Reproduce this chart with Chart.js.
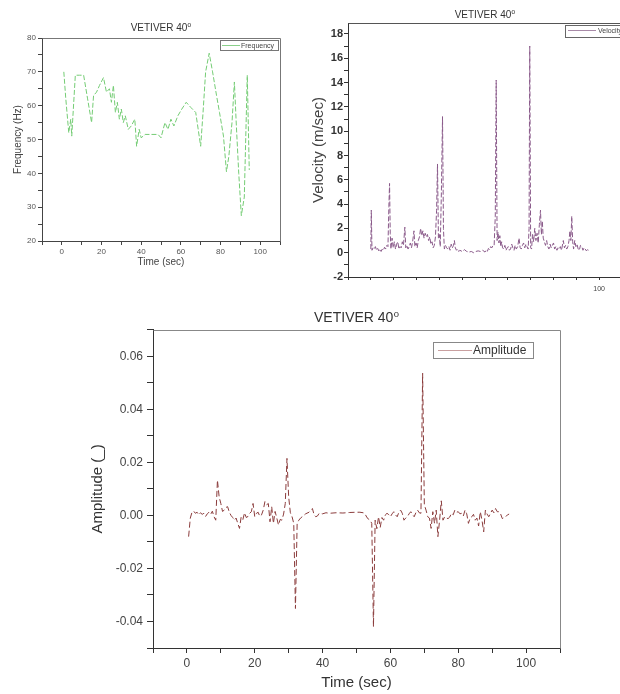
<!DOCTYPE html>
<html><head><meta charset="utf-8">
<script src="https://cdn.jsdelivr.net/npm/chart.js@4.4.1/dist/chart.umd.min.js"></script>
<style>
html,body{margin:0;padding:0;background:#fff;overflow:hidden;width:620px;height:694px;}
canvas{position:absolute;}
</style></head><body>
<canvas id="c1" width="300" height="280" style="left:0;top:0"></canvas>
<canvas id="c2" width="330" height="300" style="left:300px;top:0"></canvas>
<canvas id="c3" width="520" height="404" style="left:60px;top:290px"></canvas>
<script>
// ---------- DATA ----------
const chartTitle = 'VETIVER 40\u2070';

const freqTime = [1, 2, 3.5, 4.5, 5, 6.8, 9, 11, 13, 15, 16, 17.5, 19, 21, 22.5, 24, 25, 26, 27, 28, 29, 30, 31, 32, 33.5, 35, 36.8, 37.7, 39, 40, 42, 45, 48.5, 50, 52, 53.5, 55, 56.5, 58.5, 60.5, 62.7, 65, 67.5, 70, 71.2, 72.5, 74.3, 76, 78, 79.5, 81.5, 83, 84.2, 85.8, 87, 88, 89.2, 90.5, 92, 93.5, 94.5];
const freqValues = [70, 62, 52, 56, 51, 69, 69, 69, 62, 55, 63, 64, 66, 68.3, 64, 65, 61, 66, 58, 61, 56, 59, 55, 57, 53, 54, 56, 48, 53, 50.5, 51.5, 51.5, 51.5, 50.5, 55, 53, 56, 54, 57, 59, 61, 59.5, 58, 48, 58, 70, 75.5, 70, 63, 58, 51, 40.5, 45, 55, 67, 54, 40, 27.5, 33, 69, 41];

const velTime = [0.0,0.2,0.5,1.0,1.5,2.0,2.5,3.0,3.5,4.0,4.5,5.0,5.5,6.0,6.5,7.0,7.5,7.9,8.2,8.5,8.8,9.3,9.8,10.3,10.8,11.3,11.8,12.3,12.8,13.3,13.8,14.3,14.9,15.3,15.8,16.3,16.8,17.3,17.8,18.3,18.9,19.3,19.8,20.3,20.8,21.3,21.8,22.3,22.8,23.3,23.8,24.3,24.8,25.3,25.8,26.3,26.8,27.3,27.8,28.3,28.8,29.2,29.6,30.0,30.4,30.9,31.4,31.8,32.2,32.7,33.2,33.7,34.2,34.7,35.2,35.7,36.2,36.6,37.0,37.5,38.0,38.5,39.0,40.0,41.0,42.0,43.0,44.0,45.0,46.0,47.0,48.0,49.0,50.0,50.5,51.0,51.5,52.0,52.5,53.0,53.5,54.0,54.5,54.9,55.3,55.7,56.1,56.5,56.9,57.3,57.7,58.2,58.7,59.2,59.7,60.2,60.7,61.2,61.7,62.2,62.7,63.2,63.7,64.3,64.9,65.4,65.9,66.4,66.9,67.4,67.9,68.4,68.9,69.3,69.6,70.0,70.4,70.8,71.3,71.8,72.3,72.8,73.3,73.8,74.3,74.7,75.1,75.5,76.0,76.5,77.0,77.5,78.0,78.5,79.0,79.5,80.0,80.5,81.0,81.5,82.0,82.5,83.0,83.5,84.3,84.8,85.3,85.8,86.3,86.8,87.2,87.6,88.0,88.4,88.8,89.3,89.8,90.3,90.8,91.3,91.8,92.4,92.9,93.4,93.9,94.4,94.9,95.3];
const velValues = [0.3,3.5,0.2,0.4,0.3,0.5,0.2,0.35,0.15,0.3,0.1,0.3,0.2,0.45,0.3,0.6,0.5,3.8,5.7,1.6,0.3,1.2,0.4,0.9,0.3,0.7,0.9,0.3,0.5,0.4,0.9,0.6,2.1,0.4,0.6,0.3,0.5,0.8,0.4,0.9,1.8,0.5,0.8,0.4,1.0,1.3,2.0,1.4,1.8,1.2,1.6,1.3,1.5,1.0,1.3,0.7,0.9,0.4,0.6,1.3,3.5,7.3,1.2,1.5,0.5,5.0,11.2,2.0,0.3,0.6,0.4,0.3,0.5,0.2,0.7,0.4,0.6,1.0,0.4,0.2,0.3,0.1,0.2,0.1,0.25,0.1,0.05,0.1,0.0,0.1,0.15,0.1,0.2,0.05,0.2,0.1,0.35,0.25,0.5,0.4,0.6,0.6,3.0,14.2,1.0,1.7,0.8,1.4,0.5,0.9,0.4,0.3,0.6,0.2,0.4,0.5,0.2,0.3,0.7,0.4,0.2,0.6,0.3,0.5,1.2,0.4,0.3,0.6,0.8,0.4,0.7,0.5,0.3,2.0,17.0,0.4,0.3,1.5,0.9,2.0,1.0,1.6,0.8,2.3,3.5,1.5,2.6,1.2,0.9,0.6,1.0,0.5,0.3,0.7,0.4,0.6,0.8,0.3,0.5,0.2,0.4,0.3,0.5,0.2,1.0,0.4,0.6,0.3,0.5,1.0,1.8,1.0,3.0,0.9,0.3,1.0,0.5,0.7,0.3,0.2,0.6,0.5,0.2,0.4,0.3,0.15,0.25,0.2];

const ampTime = [0.5,1,1.5,2,2.5,3,3.5,4,4.5,5,5.5,6,6.5,7,7.5,8,8.5,9,9.5,10,10.5,11,11.5,12,12.5,13,13.5,14,14.5,15,15.5,16,16.5,17,17.5,18,18.5,19,19.5,20,20.5,21,21.5,22,22.5,23,23.5,24,24.5,25,25.5,26,26.5,27,27.5,28,28.5,29,29.5,30,30.5,31,31.5,32,32.5,33,33.5,34,35,36,37,37.5,38,38.5,39,40,41,42,44,46,48,50,51,52,52.5,53,53.5,54,54.5,55,55.5,56,56.5,57,57.5,58,58.5,59,59.5,60,60.5,61,61.5,62,62.5,63,63.5,64,64.5,65,65.5,66,66.5,67,67.5,68,68.5,69,69.5,70,70.5,71,71.5,72,72.5,73,73.5,74,74.5,75,75.5,76,76.5,77,77.5,78,78.5,79,79.5,80,80.5,81,81.5,82,82.5,83,83.5,84,84.5,85,85.5,86,86.5,87,87.5,88,88.5,89,89.5,90,90.5,91,91.5,92,92.5,93,93.5,94,94.5,95];
const ampValues = [-0.008,-0.001,0.0012,0.0016,0.0008,0.0012,0.0002,0.001,0.0004,0.0008,-0.0004,0.0006,0.0012,0.0004,0.0016,-0.0005,-0.0018,0.0133,0.007,0.0045,0.0015,0.002,0.003,0.0033,0.0012,0,-0.0008,-0.0018,-0.001,-0.003,-0.0049,-0.0005,-0.0015,0.001,-0.0008,-0.0004,0.0008,0.0014,0.0045,-0.0005,0.0008,0.0012,-0.0004,0.0002,0.002,0.0052,0.004,0.0045,-0.0024,0.0033,-0.003,0.0015,-0.001,-0.0036,-0.0015,-0.0018,0.0005,0.0045,0.0215,0.007,0.001,-0.0005,-0.003,-0.0351,-0.003,-0.0018,-0.001,-0.0005,0.0006,0.0012,0.0026,0.0002,-0.0005,-0.0002,0.0008,0.0006,0.001,0.0008,0.001,0.0009,0.0011,0.0012,0.0012,0.001,0.0006,-0.0006,-0.0014,-0.0018,-0.003,-0.042,-0.0018,-0.005,-0.0005,-0.0045,-0.0008,-0.0018,0.0002,0.0008,0.0003,-0.0005,0.0006,0.0014,0.0002,-0.0005,0.0012,0.002,0.0008,-0.0018,-0.001,-0.0005,0.0006,0.0014,0.0004,-0.0005,0.001,0.002,0.001,0.0008,0.0536,0.004,0.002,-0.0005,-0.001,-0.0049,0.0014,-0.003,0.002,-0.008,-0.0018,0.0055,-0.0018,-0.0005,-0.001,-0.0012,-0.0006,0.0008,0.0002,0.002,0.0012,0.0014,0.0006,0.0008,-0.0002,0.002,0.0006,-0.003,-0.001,-0.0005,0.0004,-0.0018,-0.001,-0.004,0.0014,-0.0018,-0.0062,0.002,0.0005,-0.0005,0.0008,0.002,0.001,0.0026,0.0014,0.0014,0.0005,-0.0012,-0.0008,-0.0005,0.0002,0.0005];

// ---------- HELPERS ----------
const F = "'Liberation Sans', Arial, 'DejaVu Sans', sans-serif";
const pts = (xs, ys) => xs.map((x, i) => ({x: x, y: ys[i]}));

const framePlugin = {
  id: 'frame',
  afterDraw(chart, args, o) {
    if (!o || !o.color) return;
    const {ctx, chartArea: a} = chart;
    ctx.save();
    ctx.strokeStyle = o.color; ctx.lineWidth = 1;
    ctx.beginPath();
    const l = Math.round(a.left) + 0.5, t = Math.round(a.top) + 0.5, r = Math.round(a.right) + 0.5, b = Math.round(a.bottom) + 0.5;
    ctx.moveTo(l, t); ctx.lineTo(r, t); ctx.lineTo(r, b);
    ctx.stroke();
    ctx.restore();
  }
};
const boxLegend = {
  id: 'boxLegend',
  afterDraw(chart, args, o) {
    if (!o || !o.text) return;
    const ctx = chart.ctx;
    ctx.save();
    ctx.fillStyle = '#fff'; ctx.fillRect(o.x, o.y, o.w, o.h);
    ctx.strokeStyle = o.border; ctx.lineWidth = 1;
    ctx.strokeRect(o.x + 0.5, o.y + 0.5, o.w, o.h);
    ctx.strokeStyle = o.lineColor; ctx.beginPath();
    ctx.moveTo(o.lx1, o.ly + 0.5); ctx.lineTo(o.lx2, o.ly + 0.5); ctx.stroke();
    ctx.fillStyle = o.textColor; ctx.font = o.font; ctx.textBaseline = 'middle'; ctx.textAlign = 'left';
    ctx.fillText(o.text, o.tx, o.ly + 1);
    ctx.restore();
  }
};
Chart.register(framePlugin, boxLegend);

function axis(o) {
  return {
    type: 'linear', min: o.min, max: o.max,
    afterFit: s => { if (s.isHorizontal()) s.height = o.size; else s.width = o.size; },
    border: {display: true, color: o.axisColor, width: 1},
    grid: {display: true, drawOnChartArea: false, drawTicks: true, tickLength: o.tickLength, tickColor: o.axisColor, tickWidth: 1},
    ticks: {stepSize: o.step, autoSkip: false, includeBounds: false, maxRotation: 0, minRotation: 0, padding: o.pad,
      color: o.labelColor, font: {family: F, size: o.fs, weight: o.fw || 'normal'}, callback: o.cb},
    title: {display: !!o.title, text: o.title || '', color: o.titleColor, font: {family: F, size: o.tfs}, padding: o.tpad || 0}
  };
}
const xCb = v => { const r = Math.round(v); return (r % 20 === 0 && r >= 0 && r <= 100) ? String(r) : ''; };

// ---------- CHART 1: Frequency ----------
new Chart(document.getElementById('c1'), {
  type: 'line',
  data: {datasets: [{data: pts(freqTime, freqValues), borderColor: '#74cc74', borderWidth: 1, borderDash: [5, 2], pointRadius: 0, tension: 0, fill: false}]},
  options: {
    responsive: false, animation: false, events: [],
    layout: {padding: {left: 0, right: 20, top: 0, bottom: 0}},
    scales: {
      x: axis({min: -10, max: 110, step: 10, size: 39, axisColor: '#444', tickLength: 4, pad: 2, labelColor: '#555', fs: 8, cb: xCb,
        title: 'Time (sec)', titleColor: '#444', tfs: 10, tpad: {top: 0, bottom: 12}}),
      y: axis({min: 20, max: 80, step: 5, size: 42, axisColor: '#444', tickLength: 4, pad: 2, labelColor: '#555', fs: 8,
        cb: v => (Math.round(v) % 10 === 0 ? String(Math.round(v)) : ''),
        title: 'Frequency (Hz)', titleColor: '#444', tfs: 10, tpad: {top: 12, bottom: 0}})
    },
    plugins: {
      legend: {display: false}, tooltip: {enabled: false},
      title: {display: true, fullSize: false, text: chartTitle, color: '#333', font: {family: F, size: 10, weight: 'normal'}, padding: {top: 22, bottom: 4}},
      frame: {color: '#777'},
      boxLegend: {x: 220, y: 40, w: 58, h: 10, border: '#777', lineColor: '#8ad08a', lx1: 222, lx2: 240, ly: 45, text: 'Frequency', tx: 241, textColor: '#444', font: "7px " + F}
    }
  }
});

// ---------- CHART 2: Velocity ----------
new Chart(document.getElementById('c2'), {
  type: 'line',
  data: {datasets: [{data: pts(velTime, velValues), borderColor: '#8a5a8a', borderWidth: 1, borderDash: [5, 2], pointRadius: 0, tension: 0, fill: false}]},
  options: {
    responsive: false, animation: false, events: [],
    layout: {padding: {left: 0, right: 8, top: 0, bottom: 0}},
    scales: {
      x: axis({min: -10, max: 110, step: 10, size: 23, axisColor: '#333', tickLength: 3, pad: 5, labelColor: '#444', fs: 7,
        cb: v => (Math.round(v) === 100 ? '100' : '')}),
      y: axis({min: -2, max: 18.9, step: 1, size: 48, axisColor: '#333', tickLength: 4, pad: 1, labelColor: '#333', fs: 11, fw: 'bold',
        cb: v => (Math.round(v) % 2 === 0 ? String(Math.round(v)) : ''),
        title: 'Velocity (m/sec)', titleColor: '#444', tfs: 15, tpad: {top: 10, bottom: 0}})
    },
    plugins: {
      legend: {display: false}, tooltip: {enabled: false},
      title: {display: true, fullSize: false, text: chartTitle, color: '#333', font: {family: F, size: 10, weight: 'normal'}, padding: {top: 9, bottom: 2}},
      frame: {color: '#555'},
      boxLegend: {x: 265, y: 25, w: 80, h: 12, border: '#666', lineColor: '#a88aa8', lx1: 268, lx2: 296, ly: 30, text: 'Velocity', tx: 298, textColor: '#444', font: "7px " + F}
    }
  }
});

// ---------- CHART 3: Amplitude ----------
new Chart(document.getElementById('c3'), {
  type: 'line',
  data: {datasets: [{data: pts(ampTime, ampValues), borderColor: '#8b3c3c', borderWidth: 1, borderDash: [6, 3], pointRadius: 0, tension: 0, fill: false}]},
  options: {
    responsive: false, animation: false, events: [],
    layout: {padding: {left: 0, right: 20, top: 0, bottom: 0}},
    scales: {
      x: axis({min: -10, max: 110, step: 10, size: 46, axisColor: '#333', tickLength: 5, pad: 3, labelColor: '#444', fs: 12, cb: xCb,
        title: 'Time (sec)', titleColor: '#333', tfs: 15, tpad: {top: 0, bottom: 2}}),
      y: axis({min: -0.05, max: 0.07, step: 0.01, size: 93, axisColor: '#333', tickLength: 6, pad: 4, labelColor: '#444', fs: 12,
        cb: v => { const r = Math.round(v * 100); return r % 2 === 0 ? (r / 100).toFixed(2) : ''; },
        title: 'Amplitude (_)', titleColor: '#333', tfs: 15, tpad: {top: 29, bottom: 0}})
    },
    plugins: {
      legend: {display: false}, tooltip: {enabled: false},
      title: {display: true, fullSize: false, text: chartTitle, color: '#333', font: {family: F, size: 14, weight: 'normal'}, padding: {top: 20, bottom: 3}},
      frame: {color: '#888'},
      boxLegend: {x: 373, y: 52, w: 100, h: 16, border: '#888', lineColor: '#c9a0a0', lx1: 378, lx2: 412, ly: 60, text: 'Amplitude', tx: 413, textColor: '#333', font: "12px " + F}
    }
  }
});
</script>
</body></html>
